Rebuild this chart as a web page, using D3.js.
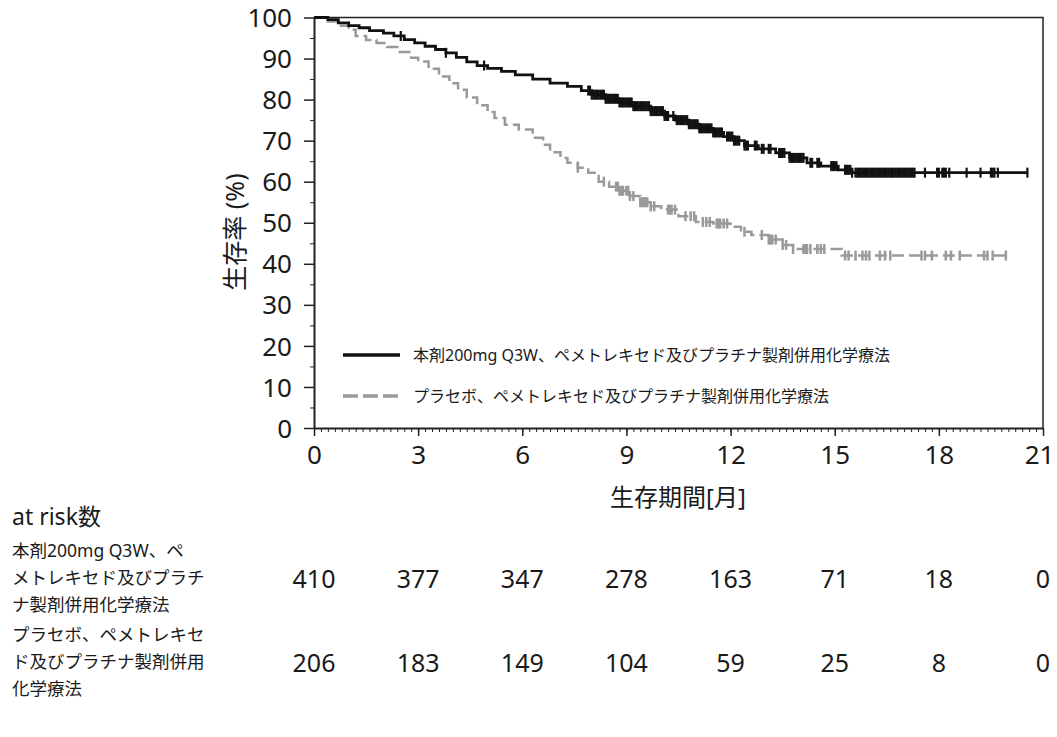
<!DOCTYPE html>
<html><head><meta charset="utf-8">
<script src="https://cdn.jsdelivr.net/npm/d3@7"></script>
<style>
html,body{margin:0;padding:0;background:#fff;}
text{font-family:"Noto Sans","Noto Sans CJK JP",sans-serif;fill:#1a1a1a;}
</style></head>
<body><svg id="c" width="1057" height="737"></svg>
<script>
// ---------- data ----------
const xTicks = [0,3,6,9,12,15,18,21];
const yTicks = [0,10,20,30,40,50,60,70,80,90,100];
const seriesNames = ["本剤200mg Q3W、ペメトレキセド及びプラチナ製剤併用化学療法","プラセボ、ペメトレキセド及びプラチナ製剤併用化学療法"];
const riskTimes = [0,3,6,9,12,15,18,21];
const riskPembro = [410,377,347,278,163,71,18,0];
const riskPlacebo = [206,183,149,104,59,25,8,0];
const riskLabelPembro = ["本剤200mg Q3W、ペ","メトレキセド及びプラチ","ナ製剤併用化学療法"];
const riskLabelPlacebo = ["プラセボ、ペメトレキセ","ド及びプラチナ製剤併用","化学療法"];

const pembroTime = [0,0.4,0.7,1.0,1.3,1.6,2.0,2.3,2.6,2.9,3.2,3.5,3.8,4.1,4.4,4.7,5.0,5.4,5.8,6.3,6.8,7.3,7.7,8.0,8.4,8.8,9.2,9.7,10.1,10.4,10.8,11.1,11.5,11.8,12.1,12.4,12.8,13.3,13.7,14.2,14.6,15.1,15.5,20.57];
const pembroSurv = [100,99.5,98.7,98.0,97.5,96.8,96.2,95.5,94.6,93.8,93.0,92.2,91.4,90.3,89.2,88.3,87.6,86.9,86.0,85.0,84.0,83.2,82.2,81.2,80.2,79.3,78.4,77.2,76.0,75.0,74.0,73.0,72.0,71.0,70.0,68.8,68.0,67.0,65.8,64.6,63.8,62.9,62.2,62.2];
const placeboTime = [0,0.4,0.7,1.0,1.2,1.5,1.8,2.1,2.4,2.8,3.0,3.3,3.6,3.9,4.15,4.4,4.7,5.0,5.2,5.5,5.9,6.3,6.6,6.8,7.1,7.3,7.6,7.9,8.2,8.5,8.8,9.1,9.4,9.7,10.0,10.5,11.0,11.5,12.0,12.3,12.6,13.1,13.5,13.8,15.2,19.93];
const placeboSurv = [100,99,98,97,95.5,94.5,93.8,92.8,91.6,90.2,89.3,87.5,85.6,84.0,82.4,80.5,78.6,77.0,75.5,73.9,72.7,70.7,69.0,67.2,65.8,64.6,63.4,62.2,60.0,58.8,57.8,56.5,55.0,54.0,53.2,51.6,50.2,49.8,49.0,47.8,47.0,45.9,44.6,43.6,42.0,42.0];

const pembroCensor = [2.5,3.8,4.9,7.9,7.95,8.0,8.05,8.1,8.15,8.2,8.25,8.3,8.35,8.4,8.45,8.5,8.55,8.6,8.65,8.7,8.75,8.8,8.85,8.9,8.95,9.0,9.05,9.1,9.15,9.2,9.25,9.3,9.35,9.4,9.45,9.5,9.55,9.6,9.65,9.7,9.75,9.8,9.85,9.9,9.95,10.0,10.05,10.1,10.15,10.2,10.35,10.45,10.5,10.55,10.6,10.65,10.7,10.75,10.8,10.85,10.9,10.95,11.0,11.05,11.1,11.15,11.2,11.25,11.3,11.35,11.4,11.45,11.5,11.55,11.6,11.65,11.7,11.75,11.9,11.95,12.0,12.05,12.1,12.15,12.2,12.25,12.4,12.45,12.5,12.7,12.75,12.9,12.95,13.1,13.15,13.4,13.45,13.5,13.55,13.7,13.75,13.8,13.85,13.9,13.95,14.0,14.05,14.1,14.3,14.35,14.5,14.55,14.9,14.95,15.0,15.05,15.3,15.35,15.4,15.45,15.5,15.6,15.65,15.7,15.75,15.8,15.85,15.9,15.95,16.0,16.05,16.1,16.15,16.2,16.25,16.3,16.35,16.4,16.45,16.5,16.55,16.6,16.65,16.7,16.75,16.8,16.85,16.9,16.95,17.0,17.05,17.1,17.15,17.2,17.25,17.3,17.6,17.95,18.0,18.1,18.15,18.2,18.3,18.8,19.2,19.5,19.55,19.6,19.7,20.55];
const placeboCensor = [7.6,8.35,8.7,8.75,8.8,8.85,8.9,9.0,9.05,9.1,9.2,9.4,9.45,9.5,9.55,9.6,9.7,9.8,10.2,10.25,10.3,10.4,10.7,10.85,10.95,11.2,11.3,11.4,11.6,11.65,11.7,11.8,11.9,12.4,12.9,13.1,13.15,13.2,13.3,13.5,13.6,13.8,14.1,14.15,14.2,14.3,14.5,14.6,14.7,15.3,15.4,15.6,15.8,15.9,16.0,16.3,16.45,16.6,17.5,17.6,17.8,18.2,18.35,18.6,19.3,19.4,19.55,19.93];

// ---------- layout ----------
const svg = d3.select("#c");
const x = d3.scaleLinear().domain([0,21]).range([314,1043]);
const y = d3.scaleLinear().domain([0,100]).range([428,17.5]);

// frame (top & right)
svg.append("path").attr("d",`M${x(0)},${y(100)}H${x(21)}V${y(0)}`)
  .attr("fill","none").attr("stroke","#222").attr("stroke-width",1.5);

// x axis
const xMinor = d3.range(0,21.0001,0.2).map(v=>+v.toFixed(2));
const gxm = svg.append("g").attr("transform",`translate(0,${y(0)})`)
  .call(d3.axisBottom(x).tickValues(xMinor).tickSize(4).tickFormat(""));
gxm.select(".domain").remove();
gxm.selectAll("line").attr("stroke","#222");
const gx = svg.append("g").attr("transform",`translate(0,${y(0)})`)
  .call(d3.axisBottom(x).tickValues(xTicks).tickSize(8).tickSizeOuter(0).tickPadding(8));
gx.select(".domain").attr("stroke","#222").attr("stroke-width",2);
gx.selectAll("line").attr("stroke","#222").attr("stroke-width",1.5);
gx.selectAll("text").attr("font-size",26).attr("fill","#1a1a1a").attr("dy","0.75em")
  .attr("dx",d=>d===21?-4:0);

// y axis
const yMinor = d3.range(5,100,10);
const gym = svg.append("g").attr("transform",`translate(${x(0)},0)`)
  .call(d3.axisLeft(y).tickValues(yMinor).tickSize(4).tickFormat(""));
gym.select(".domain").remove();
gym.selectAll("line").attr("stroke","#222");
const gy = svg.append("g").attr("transform",`translate(${x(0)},0)`)
  .call(d3.axisLeft(y).tickValues(yTicks).tickSize(10).tickSizeOuter(0).tickPadding(12));
gy.select(".domain").attr("stroke","#222").attr("stroke-width",2);
gy.selectAll("line").attr("stroke","#222").attr("stroke-width",1.5);
gy.selectAll("text").attr("font-size",26).attr("fill","#1a1a1a").attr("dy","0.35em");

// axis titles
svg.append("text").attr("transform",`translate(244,232) rotate(-90)`)
  .attr("text-anchor","middle").attr("font-size",25).text("生存率 (%)");
svg.append("text").attr("x",678).attr("y",506).attr("text-anchor","middle")
  .attr("font-size",24).text("生存期間[月]");

// curves
function km(times, surv){ return times.map((t,i)=>[t,surv[i]]); }
function survAt(times, surv, t){ let v=surv[0]; for(let i=0;i<times.length;i++){ if(times[i]<=t) v=surv[i]; } return v; }
const line = d3.line().x(d=>x(d[0])).y(d=>y(d[1])).curve(d3.curveStepAfter);

const grey = "#9a9a9a", black = "#111";
svg.append("path").datum(km(placeboTime,placeboSurv)).attr("d",line)
  .attr("fill","none").attr("stroke",grey).attr("stroke-width",2.5).attr("stroke-dasharray","12,5");
svg.append("g").selectAll("line").data(placeboCensor).join("line")
  .attr("x1",d=>x(d)).attr("x2",d=>x(d))
  .attr("y1",d=>y(survAt(placeboTime,placeboSurv,d))-5).attr("y2",d=>y(survAt(placeboTime,placeboSurv,d))+5)
  .attr("stroke",grey).attr("stroke-width",2.5);

svg.append("path").datum(km(pembroTime,pembroSurv)).attr("d",line)
  .attr("fill","none").attr("stroke",black).attr("stroke-width",2.8);
svg.append("g").selectAll("line").data(pembroCensor).join("line")
  .attr("x1",d=>x(d)).attr("x2",d=>x(d))
  .attr("y1",d=>y(survAt(pembroTime,pembroSurv,d))-5).attr("y2",d=>y(survAt(pembroTime,pembroSurv,d))+5)
  .attr("stroke",black).attr("stroke-width",2.2);

// legend
const leg = svg.append("g");
[[black,null,355],[grey,"15,5",396]].forEach((s,i)=>{
  leg.append("line").attr("x1",343).attr("x2",400).attr("y1",s[2]).attr("y2",s[2])
    .attr("stroke",s[0]).attr("stroke-width",3.5).attr("stroke-dasharray",s[1]);
  leg.append("text").attr("x",413).attr("y",s[2]).attr("dy","0.35em")
    .attr("font-size",16).text(seriesNames[i]);
});

// risk table
svg.append("text").attr("x",12).attr("y",525).attr("font-size",23).text("at risk数");
function labelBlock(lines, cy){
  lines.forEach((l,i)=>svg.append("text").attr("x",12).attr("y",cy+(i-1)*27).attr("dy","0.35em")
    .attr("font-size",17.5).text(l));
}
labelBlock(riskLabelPembro,578);
labelBlock(riskLabelPlacebo,662);
svg.append("g").selectAll("text").data(riskPembro).join("text")
  .attr("x",(d,i)=>x(riskTimes[i])).attr("y",579).attr("dy","0.35em").attr("text-anchor","middle")
  .attr("font-size",25).text(d=>d);
svg.append("g").selectAll("text").data(riskPlacebo).join("text")
  .attr("x",(d,i)=>x(riskTimes[i])).attr("y",663).attr("dy","0.35em").attr("text-anchor","middle")
  .attr("font-size",25).text(d=>d);
</script></body></html>
